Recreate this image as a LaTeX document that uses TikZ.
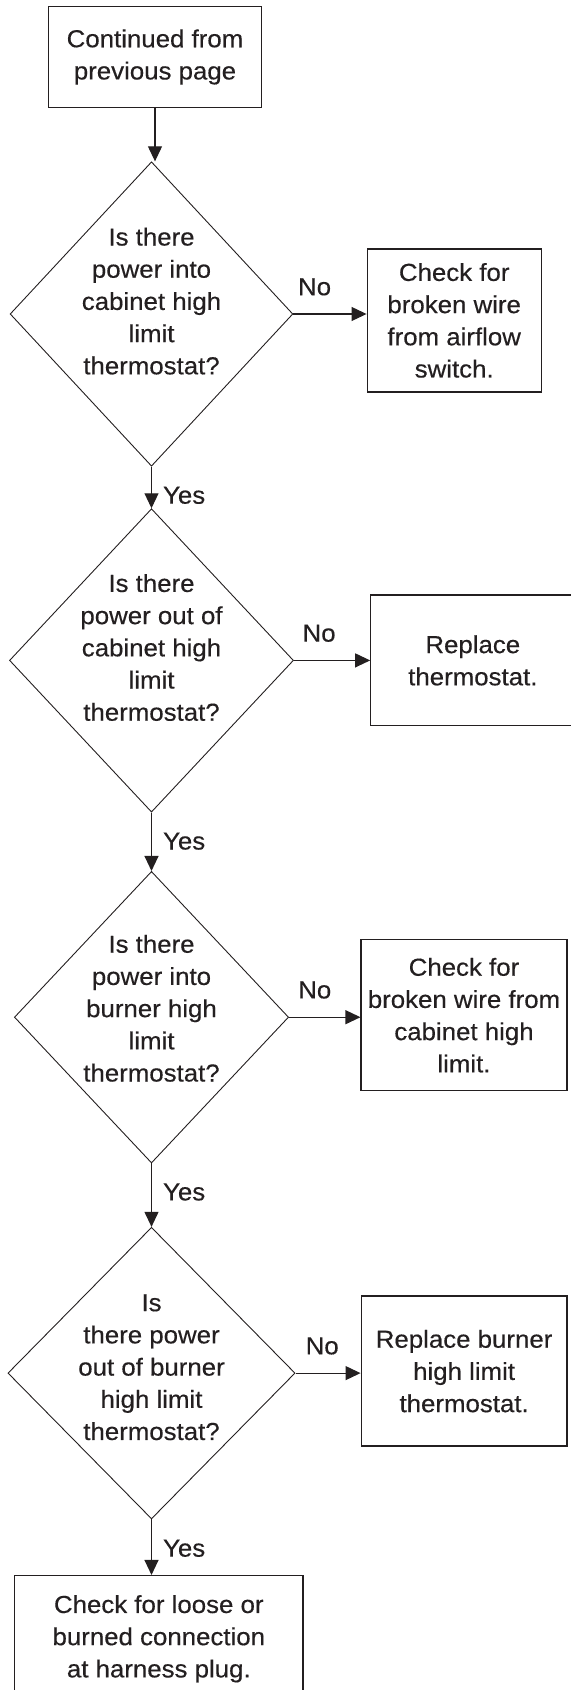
\documentclass[tikz,border=0pt]{standalone}
\usepackage{fontspec}
\setmainfont{Liberation Sans}[FakeStretch=1.05, FakeBold=0.35]
\usepackage{tikz}
\usetikzlibrary{arrows.meta, positioning, shapes.geometric}
\definecolor{lineink}{RGB}{35,31,32}

\begin{document}
\begin{tikzpicture}[
    x=0.5pt, y=-0.5pt,
    font=\fontsize{12.3}{16.1}\selectfont,
    >={Triangle[length=7.5pt,width=7pt]},
    boxnode/.style={draw=lineink, line width=0.65pt, align=center, inner sep=2pt, text=lineink},
    decnode/.style={diamond, aspect=1, draw=lineink, line width=0.45pt, align=center, inner xsep=-4pt, inner ysep=-6pt, text depth=13pt, text=lineink},
    arrow/.style={->, line width=0.55pt, draw=lineink},
    lbl/.style={inner sep=0pt, text=lineink}
]
\useasboundingbox (0,0) rectangle (571,1690);

\node[boxnode, minimum width=106.2pt, minimum height=50.3pt] (start) at (155,57) {Continued from\\previous page};

\node[decnode, below=26.7pt of start, xshift=-1.75pt, minimum width=141.4pt, minimum height=152.2pt] (cabin) {Is there\\power into\\cabinet high\\limit\\thermostat?};
\node[boxnode, right=36.6pt of cabin, yshift=-3.2pt, minimum width=87pt, minimum height=71.5pt] (wireair) {Check for\\broken wire\\from airflow\\switch.};

\node[decnode, below=20.8pt of cabin, minimum width=142pt, minimum height=151.7pt] (cabout) {Is there\\power out of\\cabinet high\\limit\\thermostat?};
\node[boxnode, right=38.1pt of cabout, minimum width=102pt, minimum height=65.3pt] (repthermo) {Replace\\thermostat.};

\node[decnode, below=29.2pt of cabout, minimum width=137.1pt, minimum height=145.8pt, text depth=9pt] (burnin) {Is there\\power into\\burner high\\limit\\thermostat?};
\node[boxnode, right=35.7pt of burnin, yshift=1pt, minimum width=102.9pt, minimum height=75.5pt] (wirecab) {Check for\\broken wire from\\cabinet high\\limit.};

\node[decnode, below=31.7pt of burnin, minimum width=143.6pt, minimum height=145.8pt, text depth=6pt] (burnout) {Is\\there power\\out of burner\\high limit\\thermostat?};
\node[boxnode, right=32.5pt of burnout, yshift=1pt, minimum width=102.9pt, minimum height=75pt] (repburner) {Replace burner\\high limit\\thermostat.};

\node[boxnode, below=27.8pt of burnout, xshift=3.65pt, minimum width=144.2pt, minimum height=63.2pt] (harness) {Check for loose or\\burned connection\\at harness plug.};

% main column
\draw[arrow] (start.south) -- (start.south |- cabin.north);
\draw[arrow] (cabin) -- (cabout) node[lbl, pos=0.69, right=5.5pt] {Yes};
\draw[arrow] (cabout) -- (burnin) node[lbl, pos=0.49, right=5.5pt] {Yes};
\draw[arrow] (burnin) -- (burnout) node[lbl, pos=0.45, right=5.5pt] {Yes};
\draw[arrow] (burnout) -- (burnout |- harness.north) node[lbl, pos=0.52, right=5.5pt] {Yes};

% no branches
\draw[arrow] (cabin.east) -- (cabin.east -| wireair.west) node[lbl, pos=0.29, above=9pt] {No};
\draw[arrow] (cabout.east) -- (cabout.east -| repthermo.west) node[lbl, pos=0.33, above=9pt] {No};
\draw[arrow] (burnin.east) -- (burnin.east -| wirecab.west) node[lbl, pos=0.36, above=9pt] {No};
\draw[arrow] (burnout.east) -- (burnout.east -| repburner.west) node[lbl, pos=0.41, above=9pt] {No};

\end{tikzpicture}
\end{document}
